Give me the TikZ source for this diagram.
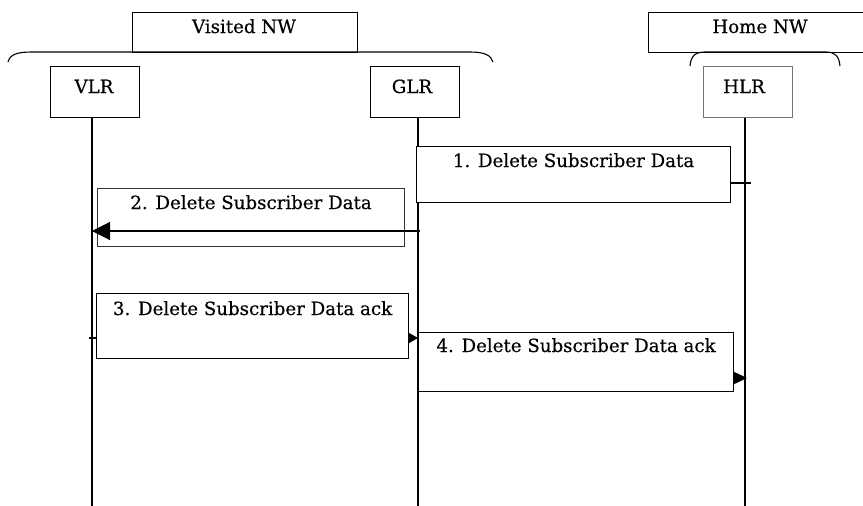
\documentclass[tikz,border=0pt]{standalone}
\usepackage{fontspec}
\setmainfont{DejaVu Serif}[FakeBold=0.4]
\usetikzlibrary{arrows.meta}
\begin{document}
\begin{tikzpicture}[x=1pt,y=-1pt,
  box/.style={draw, line width=1.1pt, fill=white, inner sep=0pt, anchor=north west},
  lbl/.style={anchor=base, inner sep=0pt, font=\fontsize{18.2}{21}\selectfont},
  life/.style={line width=1.1pt},
  msg/.style={line width=1.1pt}]
\useasboundingbox (0,0) rectangle (863,506);
\clip (0,0) rectangle (863,506);

% network group boxes
\node[box, minimum width=225pt, minimum height=40pt] (vnw) at (132,12) {};
\node[lbl] (vnwt) at (244,33) {Visited NW};
\node[box, minimum width=240pt, minimum height=40pt] (hnw) at (648,12) {};
\node[lbl] (hnwt) at (760,33) {Home NW};

% braces
\draw[life] (8,62) .. controls (10,54) and (18,52) .. (32,52) -- (470,52)
  .. controls (484,52) and (491,55) .. (493,62);
\draw[life] (690,66) .. controls (691,56) and (695,52) .. (705,52) -- (826,52)
  .. controls (835,52) and (839,56) .. (840,66);

% entity boxes
\node[box, minimum width=89pt, minimum height=51pt] (vlr) at (50,66) {};
\node[lbl] (vlrt) at (94,93) {VLR};
\node[box, minimum width=89pt, minimum height=51pt] (glr) at (370,66) {};
\node[lbl] (glrt) at (412,93) {GLR};
\node[box, draw=black!55, minimum width=89pt, minimum height=51pt] (hlr) at (703,66) {};
\node[lbl] (hlrt) at (744,93) {HLR};

% lifelines
\coordinate (vlrend) at (92,506);
\coordinate (glrend) at (418,506);
\coordinate (hlrend) at (745,506);
\draw[life] (vlr.south -| vlrend) -- (vlrend);
\draw[life] (glr.south -| glrend) -- (glrend);
\draw[life] (hlr.south -| hlrend) -- (hlrend);

% message anchor points
\coordinate (h1) at (745,183); \coordinate (g1) at (418,183);
\coordinate (g2) at (418,231); \coordinate (v2) at (92,231);
\coordinate (v3) at (92,338);  \coordinate (g3) at (418,338);
\coordinate (g4) at (418,378); \coordinate (h4) at (747,378);

% message lines under boxes
\draw[msg, shorten <=-6pt] (h1) -- (g1);
\draw[msg, shorten <=-3pt, -{Triangle[length=9pt,width=10pt]}] (v3) -- (g3);
\draw[msg, -{Triangle[length=15pt,width=14pt]}] (g4) -- (h4);

% message label boxes
\node[box, minimum width=314pt, minimum height=56pt] (m1) at (416,146) {};
\node[lbl] (m1t) at (m1.north |- 0,167) {1. Delete Subscriber Data};
\node[box, draw=black!80, minimum width=307pt, minimum height=58pt] (m2) at (97,188) {};
\node[lbl] (m2t) at (m2.north |- 0,209) {2. Delete Subscriber Data};
\node[box, minimum width=312pt, minimum height=65pt] (m3) at (96,293) {};
\node[lbl] (m3t) at (m3.north |- 0,315) {3. Delete Subscriber Data ack};
\node[box, minimum width=315pt, minimum height=59pt] (m4) at (418,332) {};
\node[lbl] (m4t) at (m4.north |- 0,352) {4. Delete Subscriber Data ack};

% message 2 drawn over its box
\draw[msg, shorten <=-2pt, -{Triangle[length=18pt,width=18pt]}] (g2) -- (v2);
\end{tikzpicture}
\end{document}
